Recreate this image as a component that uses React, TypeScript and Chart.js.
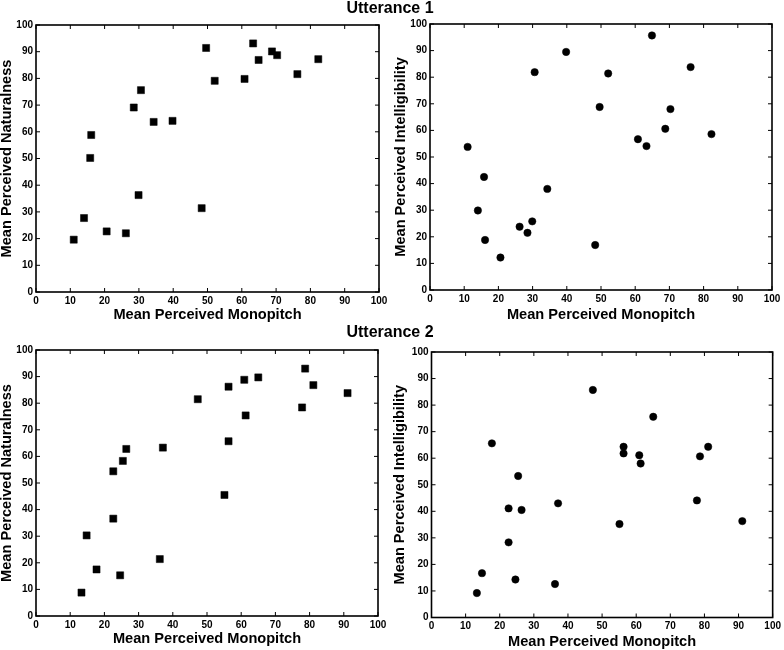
import React, { useEffect, useRef } from "react";
import { Chart, registerables } from "chart.js";

Chart.register(...registerables);

// ---------------- data ----------------
const u1Monopitch = [11.0, 14.0, 15.8, 16.1, 20.6, 26.2, 28.5, 29.9, 30.6, 34.3, 39.8, 48.3, 49.6, 52.1, 60.8, 63.3, 64.9, 68.8, 70.3, 76.2, 82.3];
const u1Naturalness = [19.6, 27.7, 50.2, 58.8, 22.7, 22.0, 69.1, 36.3, 75.6, 63.7, 64.1, 31.4, 91.4, 79.1, 79.8, 93.1, 86.9, 90.1, 88.7, 81.6, 87.2];
const u1Intelligibility = [53.8, 29.9, 42.5, 18.8, 12.2, 23.8, 21.5, 25.8, 81.9, 38.0, 89.5, 16.9, 68.8, 81.4, 56.7, 54.1, 95.7, 60.6, 68.0, 83.8, 58.6];

const u2Monopitch = [13.3, 14.8, 17.7, 22.6, 22.6, 24.6, 25.4, 26.4, 36.2, 37.1, 47.3, 55.1, 56.3, 56.3, 60.9, 61.3, 65.0, 77.8, 78.7, 81.1, 91.1];
const u2Naturalness = [8.8, 30.3, 17.5, 54.4, 36.6, 15.3, 58.3, 62.8, 21.4, 63.3, 81.5, 45.5, 86.2, 65.7, 88.8, 75.4, 89.7, 78.4, 93.0, 86.8, 83.8];
const u2Intelligibility = [9.2, 16.7, 65.6, 41.1, 28.3, 14.3, 53.3, 40.5, 12.6, 43.0, 85.7, 35.2, 64.3, 61.8, 61.1, 58.0, 75.6, 44.1, 60.7, 64.3, 36.3];

const axisMin = 0;
const axisMax = 100;
const axisStep = 10;

const groupTitles = ["Utterance 1", "Utterance 2"];
const xAxisTitle = "Mean Perceived Monopitch";
const naturalnessTitle = "Mean Perceived Naturalness";
const intelligibilityTitle = "Mean Perceived Intelligibility";

// ---------------- styling ----------------
const FONT = "'Liberation Sans', Arial, Helvetica, sans-serif";

const framePlugin = {
  id: "matlabFrame",
  afterDraw(chart: any) {
    const { ctx, chartArea: a, scales } = chart;
    ctx.save();
    ctx.strokeStyle = "#000";
    ctx.lineWidth = 1;
    const tl = 4;
    ctx.beginPath();
    scales.x.ticks.forEach((t: any) => {
      const px = scales.x.getPixelForValue(t.value);
      ctx.moveTo(px, a.bottom);
      ctx.lineTo(px, a.bottom - tl);
      ctx.moveTo(px, a.top);
      ctx.lineTo(px, a.top + tl);
    });
    scales.y.ticks.forEach((t: any) => {
      const py = scales.y.getPixelForValue(t.value);
      ctx.moveTo(a.left, py);
      ctx.lineTo(a.left + tl, py);
      ctx.moveTo(a.right, py);
      ctx.lineTo(a.right - tl, py);
    });
    ctx.stroke();
    ctx.lineWidth = 1.6;
    ctx.strokeRect(a.left, a.top, a.right - a.left, a.bottom - a.top);
    ctx.restore();
  },
};

type PanelProps = {
  xs: number[];
  ys: number[];
  yTitle: string;
  pointStyle: "rect" | "circle";
  left: number;
  top: number;
  area: { l: number; t: number; r: number; b: number };
  yTitlePad: number;
  xTitlePad: number;
};

const W = 392;
const H = 325;

function Panel(p: PanelProps) {
  const ref = useRef<HTMLCanvasElement | null>(null);
  useEffect(() => {
    if (!ref.current) return;
    const data = p.xs.map((x, i) => ({ x, y: p.ys[i] }));
    const tickFont = { family: FONT, size: 10, weight: "bold" as const, lineHeight: 1.2 };
    const titleFont = { family: FONT, size: 14.6, weight: "bold" as const, lineHeight: 1 };
    const chart = new Chart(ref.current, {
      type: "scatter",
      data: {
        datasets: [
          {
            data,
            pointStyle: p.pointStyle,
            pointRadius: p.pointStyle === "rect" ? 5 : 3.7,
            pointBackgroundColor: "#000",
            pointBorderColor: "#000",
            pointBorderWidth: 0.5,
          },
        ],
      },
      options: {
        responsive: false,
        maintainAspectRatio: false,
        animation: false,
        events: [],
        layout: {
          padding: { left: 0, top: p.area.t, right: W - p.area.r, bottom: 0 },
        },
        plugins: {
          legend: { display: false },
          tooltip: { enabled: false },
          title: { display: false },
        },
        scales: {
          x: {
            type: "linear",
            min: axisMin,
            max: axisMax,
            ticks: { stepSize: axisStep, font: tickFont, color: "#000", padding: 3, maxRotation: 0, autoSkip: false },
            grid: { display: false, drawTicks: false },
            border: { display: false },
            title: { display: true, text: xAxisTitle, font: titleFont, color: "#000", padding: { top: 0, bottom: p.xTitlePad } },
            afterFit: (s: any) => {
              s.height = H - p.area.b;
            },
          },
          y: {
            type: "linear",
            min: axisMin,
            max: axisMax,
            ticks: { stepSize: axisStep, font: tickFont, color: "#000", padding: 3, autoSkip: false },
            grid: { display: false, drawTicks: false },
            border: { display: false },
            title: { display: true, text: p.yTitle, font: titleFont, color: "#000", padding: { top: p.yTitlePad, bottom: 0 } },
            afterFit: (s: any) => {
              s.width = p.area.l;
            },
          },
        },
      },
      plugins: [framePlugin],
    });
    return () => chart.destroy();
  }, []);
  return (
    <canvas
      ref={ref}
      width={W}
      height={H}
      style={{ position: "absolute", left: p.left, top: p.top, width: W, height: H, display: "block" }}
    />
  );
}

const titleStyle: React.CSSProperties = {
  position: "absolute",
  left: 0,
  width: 780,
  textAlign: "center",
  fontFamily: FONT,
  fontWeight: "bold",
  fontSize: 16,
  lineHeight: "18px",
  color: "#000",
  zIndex: 2,
  whiteSpace: "nowrap",
};

export default function App() {
  return (
    <div style={{ position: "absolute", left: 0, top: 0, width: 784, height: 650, background: "#fff", overflow: "hidden" }}>
      <Panel xs={u1Monopitch} ys={u1Naturalness} yTitle={naturalnessTitle} pointStyle="rect" left={0} top={0}
        area={{ l: 36, t: 25, r: 379, b: 292 }} yTitlePad={0} xTitlePad={3} />
      <Panel xs={u1Monopitch} ys={u1Intelligibility} yTitle={intelligibilityTitle} pointStyle="circle" left={392} top={0}
        area={{ l: 38, t: 24, r: 380, b: 290 }} yTitlePad={2} xTitlePad={3} />
      <Panel xs={u2Monopitch} ys={u2Naturalness} yTitle={naturalnessTitle} pointStyle="rect" left={0} top={325}
        area={{ l: 36, t: 25, r: 378, b: 291 }} yTitlePad={0} xTitlePad={4} />
      <Panel xs={u2Monopitch} ys={u2Intelligibility} yTitle={intelligibilityTitle} pointStyle="circle" left={392} top={325}
        area={{ l: 39.5, t: 27, r: 381, b: 292.5 }} yTitlePad={1} xTitlePad={1} />
      <div style={{ ...titleStyle, top: -1 }}>{groupTitles[0]}</div>
      <div style={{ ...titleStyle, top: 323 }}>{groupTitles[1]}</div>
    </div>
  );
}
